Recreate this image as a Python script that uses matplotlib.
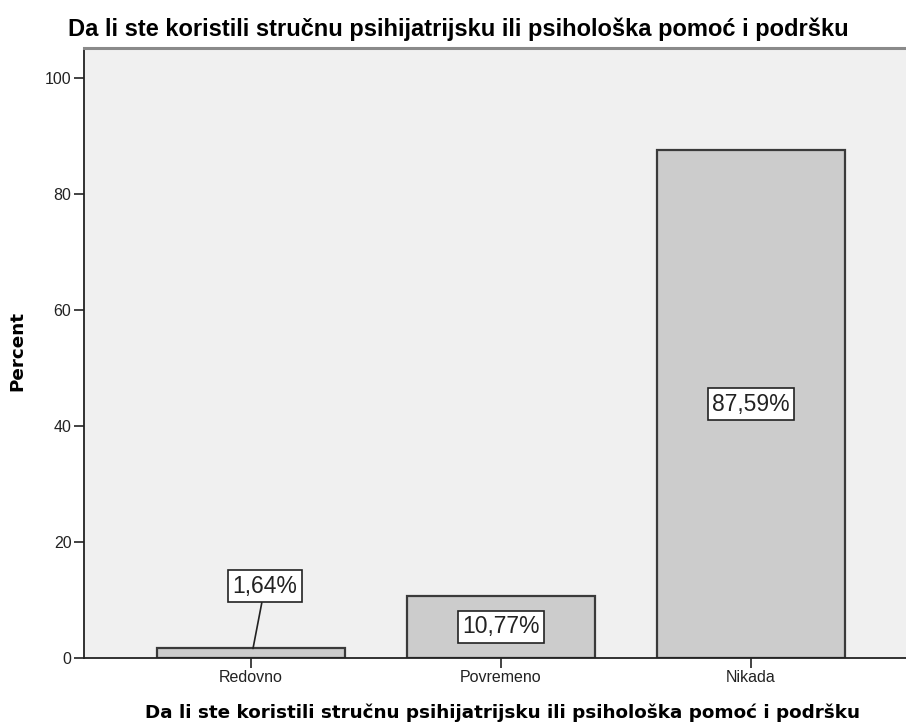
import matplotlib
matplotlib.use("Agg")
import matplotlib.pyplot as plt

categories = ["Redovno", "Povremeno", "Nikada"]
percent = [1.64, 10.77, 87.59]
value_labels = ["1,64%", "10,77%", "87,59%"]
yticks = [0, 20, 40, 60, 80, 100]
title = "Da li ste koristili stručnu psihijatrijsku ili psihološka pomoć i podršku"
ylabel = "Percent"

fig = plt.figure(figsize=(9.06, 7.27), dpi=100)
fig.patch.set_facecolor("white")
ax = fig.add_axes([84/906, 1-658/727, (918-84)/906, (658-48)/727])
ax.set_facecolor("#F0F0F0")

x = list(range(len(categories)))
ax.bar(x, percent, width=0.752, color="#CCCCCC", edgecolor="#3A3A3A", linewidth=1.6, zorder=2)
ax.set_xlim(-0.668, 2.668)
ax.set_ylim(0, 105.2)

ax.set_xticks(x)
ax.set_xticklabels(categories, fontfamily="Liberation Sans", fontsize=11.5, color="#222222")
ax.set_yticks(yticks)
ax.set_yticklabels([str(v) for v in yticks], fontfamily="Liberation Sans", fontsize=11.5, color="#222222")
ax.tick_params(axis="both", length=7, width=1.2, color="#222222", pad=2)

for side in ["left", "bottom"]:
    ax.spines[side].set_color("#222222")
    ax.spines[side].set_linewidth(1.3)
ax.spines["top"].set_color("#8A8A8A")
ax.spines["top"].set_linewidth(2.2)
ax.spines["right"].set_visible(False)

box = dict(boxstyle="square,pad=0.2", facecolor="white", edgecolor="#222222", linewidth=1.2)
lab_font = dict(fontfamily="Liberation Sans", fontsize=16.5, color="#222222", ha="center", va="center")

# small bar: label above with leader line
ax.annotate(value_labels[0], xy=(x[0] + 0.008, percent[0]), xytext=(x[0] + 0.056, 12.4),
            bbox=box, arrowprops=dict(arrowstyle="-", color="#222222", lw=1.2, shrinkA=0, shrinkB=0),
            zorder=5, **lab_font)
for i in (1, 2):
    ax.text(x[i], percent[i] / 2, value_labels[i], bbox=box, zorder=5, **lab_font)

fig.text(458/906, 1-29/727, title, fontfamily="Liberation Sans", fontweight="bold",
         fontsize=17, ha="center", va="center", color="black")
fig.text(502/906, 1-713/727, title, fontfamily="DejaVu Sans", fontweight="bold",
         fontsize=13.2, ha="center", va="center", color="black")
fig.text(17/906, 1-351/727, ylabel, fontfamily="DejaVu Sans", fontweight="bold",
         fontsize=13.2, ha="center", va="center", rotation=90, color="black")

fig.savefig("out.png", dpi=100)
